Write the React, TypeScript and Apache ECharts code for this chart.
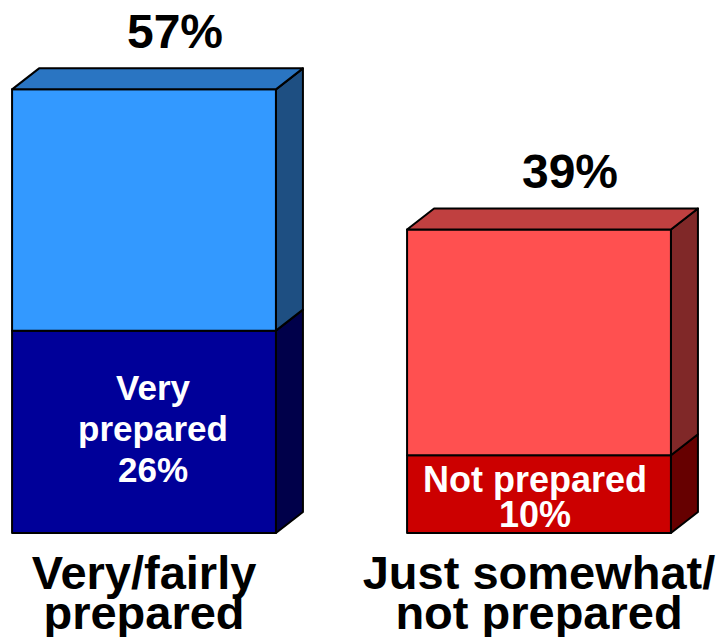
import React, { useEffect, useRef } from "react";
import * as echarts from "echarts";

const categories = ["Very/fairly\nprepared", "Just somewhat/\nnot prepared"];
const bottomValues = [26, 10];
const topValues = [31, 29];
const bottomLabels = ["Very\nprepared\n26%", "Not prepared\n10%"];

const FONT = '"Liberation Sans", Arial, sans-serif';
const DX = 27;
const DY = -21;
const WIDTH_RATIO = 0.668;

const palette = {
  bottom: [
    { front: "#000099", side: "#00004A", top: "#000070" },
    { front: "#CC0000", side: "#660000", top: "#990000" },
  ],
  top: [
    { front: "#3399FF", side: "#1E4F82", top: "#2A75C2" },
    { front: "#FF5050", side: "#802828", top: "#C04040" },
  ],
};

function makeRender(kind: "bottom" | "top") {
  return (params: any, api: any) => {
    const ci = api.value(0);
    const s = api.value(1);
    const e = api.value(2);
    const pB = api.coord([ci, s]);
    const pT = api.coord([ci, e]);
    const step = Math.abs(api.coord([1, 0])[0] - api.coord([0, 0])[0]);
    const w = step * WIDTH_RATIO;
    const l = pB[0] - w / 2;
    const r = pB[0] + w / 2;
    const yT = pT[1];
    const yB = pB[1];
    const c = palette[kind][ci];
    const stroke = { stroke: "#000", lineWidth: 2, lineJoin: "round" };
    const children: any[] = [
      {
        type: "polygon",
        shape: { points: [[r, yT], [r + DX, yT + DY], [r + DX, yB + DY], [r, yB]] },
        style: { fill: c.side, ...stroke },
      },
      {
        type: "rect",
        shape: { x: l, y: yT, width: w, height: yB - yT },
        style: { fill: c.front, ...stroke },
      },
    ];
    if (kind === "top") {
      children.push({
        type: "polygon",
        shape: { points: [[l, yT], [l + DX, yT + DY], [r + DX, yT + DY], [r, yT]] },
        style: { fill: c.top, ...stroke },
      });
      const total = bottomValues[ci] + topValues[ci];
      children.push({
        type: "text",
        x: pB[0] + 31,
        y: yT + DY - 37,
        style: {
          text: total + "%",
          fill: "#000",
          font: `bold 48px ${FONT}`,
          align: "center",
          verticalAlign: "middle",
        },
      });
    } else {
      const big = ci === 0;
      children.push({
        type: "text",
        x: pB[0] + (big ? 9 : -4),
        y: (yT + yB) / 2 + (big ? -3 : 3),
        style: {
          text: bottomLabels[ci],
          fill: "#fff",
          font: `bold ${big ? 35 : 36}px ${FONT}`,
          lineHeight: big ? 41 : 35,
          align: "center",
          verticalAlign: "middle",
        },
      });
    }
    return { type: "group", children };
  };
}

export default function App() {
  const ref = useRef<HTMLDivElement>(null);
  useEffect(() => {
    if (!ref.current) return;
    const chart = echarts.init(ref.current, null, { renderer: "svg" });
    const bottomData = bottomValues.map((v, i) => [i, 0, v]);
    const topData = topValues.map((v, i) => [i, bottomValues[i], bottomValues[i] + v]);
    chart.setOption({
      animation: false,
      backgroundColor: "#fff",
      grid: { left: 144, right: 182, top: 66, bottom: 104 },
      xAxis: {
        type: "category",
        data: categories,
        boundaryGap: false,
        axisLine: { show: false },
        axisTick: { show: false },
        splitLine: { show: false },
        axisLabel: {
          interval: 0,
          margin: 19,
          color: "#000",
          fontFamily: FONT,
          fontWeight: "bold",
          fontSize: 47,
          lineHeight: 40,
        },
      },
      yAxis: {
        type: "value",
        min: 0,
        max: 60,
        show: false,
        splitLine: { show: false },
      },
      series: [
        {
          type: "custom",
          name: "bottom",
          renderItem: makeRender("bottom"),
          data: bottomData,
          encode: { x: 0, y: [1, 2] },
          clip: false,
        },
        {
          type: "custom",
          name: "top",
          renderItem: makeRender("top"),
          data: topData,
          encode: { x: 0, y: [1, 2] },
          clip: false,
        },
      ],
    });
    return () => chart.dispose();
  }, []);
  return (
    <div
      ref={ref}
      style={{ position: "absolute", left: 0, top: 0, width: 721, height: 637 }}
    />
  );
}
